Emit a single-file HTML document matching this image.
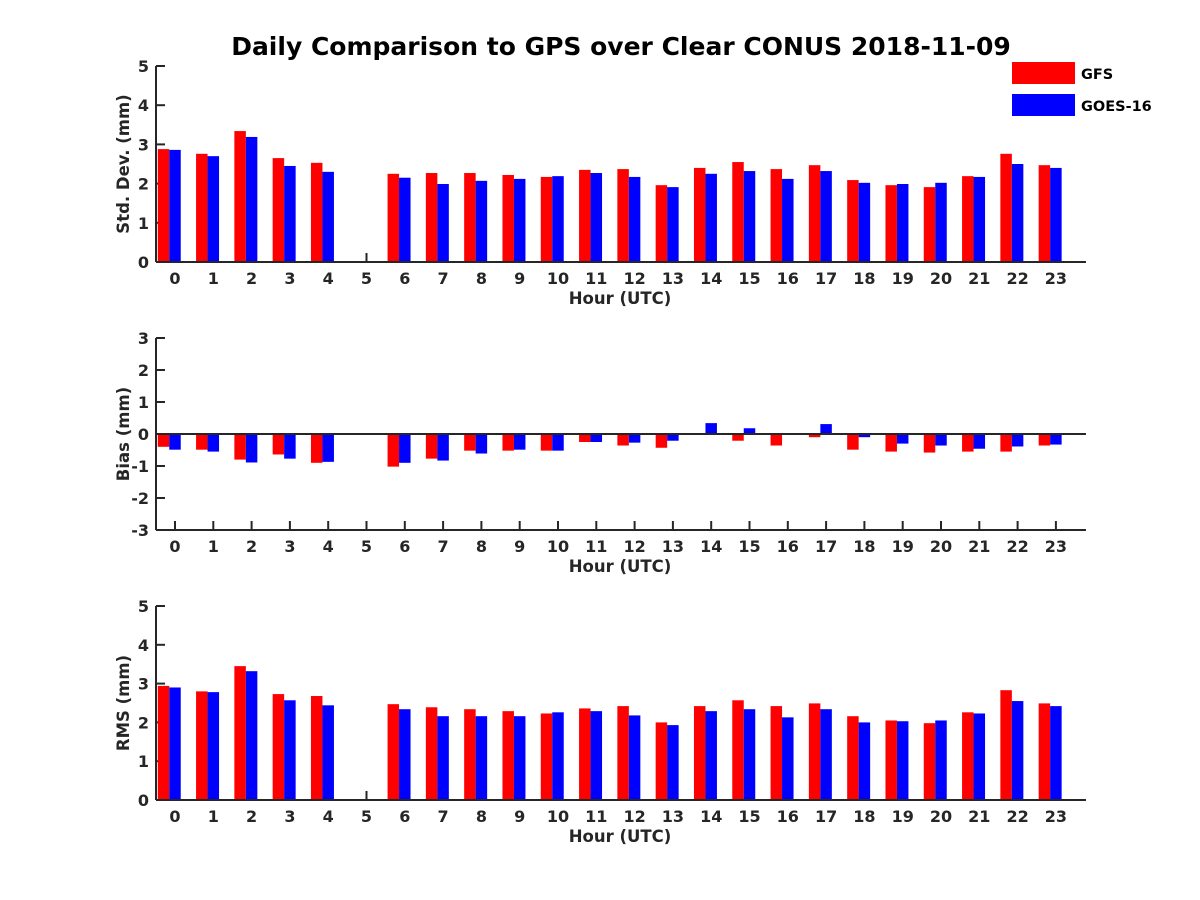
<!DOCTYPE html>
<html><head><meta charset="utf-8"><style>
html,body{margin:0;padding:0;background:#fff;}
svg{display:block;font-family:"DejaVu Sans","Liberation Sans",sans-serif;}
</style></head><body>
<svg id="chart" width="1200" height="900" viewBox="0 0 1200 900" xmlns="http://www.w3.org/2000/svg">
<rect width="1200" height="900" fill="#fff"/>
<text x="621" y="55" text-anchor="middle" font-size="25" font-weight="bold" fill="#000">Daily Comparison to GPS over Clear CONUS 2018-11-09</text>
<g>
<rect x="1012" y="62" width="63" height="22" fill="#ff0000"/>
<text x="1081" y="79" font-size="14.5" font-weight="bold" fill="#000">GFS</text>
<rect x="1012" y="94" width="63" height="22" fill="#0000ff"/>
<text x="1081" y="111" font-size="14.5" font-weight="bold" fill="#000">GOES-16</text>
</g>
</svg>
<script>
const hours = [0,1,2,3,4,5,6,7,8,9,10,11,12,13,14,15,16,17,18,19,20,21,22,23];
const stdGFS  = [2.88,2.76,3.34,2.65,2.53,null,2.25,2.27,2.27,2.22,2.17,2.35,2.37,1.96,2.40,2.55,2.37,2.47,2.09,1.96,1.91,2.19,2.76,2.47];
const stdGOES = [2.86,2.70,3.19,2.45,2.30,null,2.15,1.99,2.07,2.12,2.19,2.27,2.17,1.91,2.25,2.32,2.12,2.32,2.02,1.99,2.02,2.17,2.50,2.40];
const biasGFS  = [-0.40,-0.49,-0.80,-0.64,-0.90,null,-1.02,-0.77,-0.52,-0.52,-0.52,-0.25,-0.36,-0.43,-0.03,-0.21,-0.36,-0.10,-0.49,-0.55,-0.58,-0.55,-0.55,-0.36];
const biasGOES = [-0.49,-0.55,-0.89,-0.77,-0.87,null,-0.90,-0.83,-0.61,-0.49,-0.52,-0.25,-0.27,-0.21,0.34,0.18,0.00,0.31,-0.10,-0.30,-0.36,-0.46,-0.39,-0.33];
const rmsGFS  = [2.94,2.80,3.45,2.73,2.68,null,2.47,2.39,2.34,2.29,2.23,2.36,2.42,2.00,2.42,2.57,2.42,2.49,2.16,2.05,1.98,2.26,2.83,2.49];
const rmsGOES = [2.90,2.78,3.32,2.57,2.44,null,2.34,2.16,2.16,2.16,2.26,2.29,2.18,1.93,2.29,2.34,2.13,2.34,2.00,2.03,2.05,2.23,2.55,2.42];
const stdTicks = [0,1,2,3,4,5];
const biasTicks = [-3,-2,-1,0,1,2,3];
const rmsTicks = [0,1,2,3,4,5];

const svg = document.getElementById('chart');
const NS = 'http://www.w3.org/2000/svg';
function mk(tag, attrs, parent){
  const e = document.createElementNS(NS, tag);
  for (const k in attrs) e.setAttribute(k, attrs[k]);
  (parent||svg).appendChild(e);
  return e;
}
const X0 = 156, X1 = 1086, H0X = 175, HSTEP = 38.3;
function xScale(h){ return H0X + h*HSTEP; }

function panel(name, top, bottom, ymin, ymax, ticks, gfs, goes, ytitle){
  const g = mk('g', {});
  
  
  const y = v => bottom - (v - ymin) / (ymax - ymin) * (bottom - top);
  const zero = y(Math.max(ymin, 0));
  ticks.forEach(t => {
    const yy = y(t);
    mk('line', {x1: X0, y1: yy, x2: X0 + 9, y2: yy, stroke: '#262626', 'stroke-width': 2}, g);
    const tl = mk('text', {x: 149, y: yy + 6, 'text-anchor': 'end', 'font-size': 16, 'font-weight': 'bold', fill: '#262626'}, g);
    tl.textContent = t;
    
    
  });
  hours.forEach(h => {
    const xx = xScale(h);
    mk('line', {x1: xx, y1: bottom, x2: xx, y2: bottom - 9, stroke: '#262626', 'stroke-width': 2}, g);
    const tl = mk('text', {x: xx, y: bottom + 22, 'text-anchor': 'middle', 'font-size': 16, 'font-weight': 'bold', fill: '#262626'}, g);
    tl.textContent = h;
    
    
  });
  hours.forEach((h, i) => {
    [[gfs[i], -0.45, '#ff0000', 'gfs'], [goes[i], -0.15, '#0000ff', 'goes']].forEach(([v, off, col, s]) => {
      if (v === null) return;
      const x = xScale(h + off);
      const yv = y(v);
      const r = mk('rect', {x: x, y: Math.min(yv, zero), width: 0.3*HSTEP, height: Math.abs(zero - yv), fill: col}, g);
      
      
    });
  });
  const ax = mk('line', {x1: X0, y1: top, x2: X0, y2: bottom, stroke: '#262626', 'stroke-width': 2}, g);
  
  
  const bx = mk('line', {x1: X0, y1: bottom, x2: X1, y2: bottom, stroke: '#262626', 'stroke-width': 2}, g);
  
  
  if (ymin < 0) {
    const zl = mk('line', {x1: X0, y1: zero, x2: X1, y2: zero, stroke: '#262626', 'stroke-width': 2}, g);
    
    
  }
  const xt = mk('text', {x: 620, y: bottom + 42, 'text-anchor': 'middle', 'font-size': 16.5, 'font-weight': 'bold', fill: '#262626'}, g);
  xt.textContent = 'Hour (UTC)';
  
  
  const cy = (top + bottom) / 2;
  const yt = mk('text', {x: 129, y: cy, 'text-anchor': 'middle', 'font-size': 16.5, 'font-weight': 'bold', fill: '#262626', transform: 'rotate(-90 129 ' + cy + ')'}, g);
  yt.textContent = ytitle;
  
  
}
panel('std', 66, 262, 0, 5, stdTicks, stdGFS, stdGOES, 'Std. Dev. (mm)');
panel('bias', 338, 530, -3, 3, biasTicks, biasGFS, biasGOES, 'Bias (mm)');
panel('rms', 606, 800, 0, 5, rmsTicks, rmsGFS, rmsGOES, 'RMS (mm)');
</script>
</body></html>
